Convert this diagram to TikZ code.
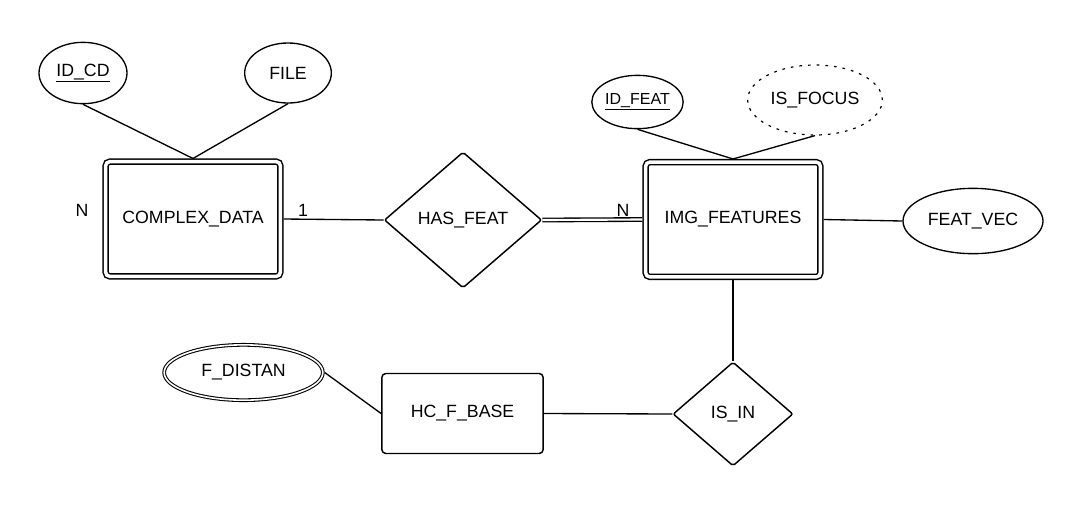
\documentclass[tikz,border=0pt]{standalone}
\usepackage{fontspec}
\setmainfont{Liberation Sans}
\usetikzlibrary{shapes.geometric}
\begin{document}
\begin{tikzpicture}[x=0.75pt,y=-0.75pt,
  every node/.style={font=\fontsize{13.3pt}{15pt}\selectfont, inner sep=0pt},
  ln/.style={line width=1pt, black},
  attr/.style={ellipse, draw, line width=1pt},
  dattr/.style={ellipse, draw, line width=0.9pt, dash pattern=on 2pt off 4.5pt},
  mattr/.style={ellipse, draw, line width=0.8pt, double, double distance=1.2pt, outer sep=1.4pt},
  weak/.style={rectangle, draw, rounded corners=3pt, line width=1.1pt, double, double distance=2.6pt, outer sep=2.4pt, minimum width=131pt, minimum height=86pt},
  ent/.style={rectangle, draw, rounded corners=3pt, line width=1.1pt, minimum width=121pt, minimum height=60pt},
  rel/.style={diamond, draw, rounded corners=1.5pt, line width=1.1pt},
  card/.style={}
]
\useasboundingbox[fill=white] (0,0) rectangle (1084,508);

% entities
\node[weak] (cd) at (193,219) {COMPLEX\_DATA};
\node[weak] (imgf) at (733,219.5) {IMG\_FEATURES};
\node[ent] (hcf) at (462.5,413.5) {HC\_F\_BASE};

% relationships
\node[rel, minimum width=118pt, minimum height=102pt] (hasfeat) at (463,220) {HAS\_FEAT};
\node[rel, minimum width=90pt, minimum height=78pt] (isin) at (733,414) {IS\_IN};

% attributes
\node[attr, minimum width=66pt, minimum height=46pt] (idcd) at (83,73) {\underline{ID\_CD}};
\node[attr, minimum width=65pt, minimum height=45pt] (file) at (288,73) {FILE};
\node[attr, minimum width=67pt, minimum height=40pt, font=\fontsize{12pt}{14pt}\selectfont] (idfeat) at (637.5,102) {\underline{ID\_FEAT}};
\node[dattr, minimum width=101pt, minimum height=52.5pt] (isfocus) at (815,100) {IS\_FOCUS};
\node[attr, minimum width=105pt, minimum height=49pt] (featvec) at (973,221) {FEAT\_VEC};
\node[mattr, minimum width=119pt, minimum height=41.5pt] (fdistan) at (243.5,372.5) {F\_DISTAN};

% cardinalities
\node[card] (n1) at (82,210) {N};
\node[card] (c1) at (303,210) {1};
\node[card] (n2) at (623,210) {N};

% connectors
\draw[ln] (idcd.south) -- (cd.north);
\draw[ln] (file.south) -- (cd.north);
\draw[ln] (cd.east) -- (hasfeat.west);
\draw[line width=1pt, double, double distance=1.6pt] (hasfeat.east) -- (imgf.west);
\draw[ln] (idfeat.south) -- (imgf.north);
\draw[ln] (isfocus.south) -- (imgf.north);
\draw[ln] (imgf.east) -- (featvec.west);
\draw[ln] (imgf.south) -- (isin.north);
\draw[ln] (hcf.east) -- (isin.west);
\draw[ln] (fdistan.east) -- (hcf.west);
\end{tikzpicture}
\end{document}
